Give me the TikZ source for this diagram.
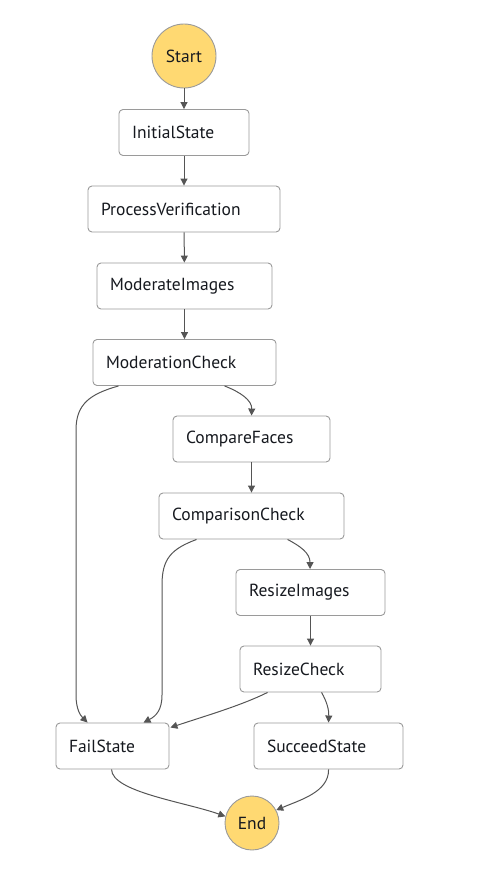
\documentclass[tikz,border=0pt]{standalone}
\usepackage{fontspec}
\setmainfont{PT Sans}
\usetikzlibrary{arrows.meta,calc}
\definecolor{boxline}{HTML}{9A9A9A}
\definecolor{txt}{HTML}{16191F}
\definecolor{edge}{HTML}{555555}
\definecolor{term}{HTML}{FFD972}
\tikzset{
  statebox/.style={draw=boxline, line width=0.9pt, rounded corners=4pt, fill=white,
    minimum height=46pt, inner xsep=13pt, inner ysep=0pt, align=left,
    text=txt, font=\fontsize{17.5}{19}\selectfont, anchor=center},
  termnode/.style={circle, draw=boxline, line width=0.9pt, fill=term, text=txt,
    font=\fontsize{17.5}{19}\selectfont, inner sep=0pt},
  conn/.style={draw=edge, line width=1pt, -{Triangle[length=7pt,width=7pt]}}
}
\newcommand{\stbox}[5]{\node[statebox, text width=#4pt-26pt] (#1) at (#2,#3) {#5};}
\begin{document}
\begin{tikzpicture}[x=1pt,y=-1pt]
\useasboundingbox (0,0) rectangle (494,882);
\node[termnode, minimum size=64pt] (start) at (184,56) {Start};
\stbox{init}{184}{132.5}{130}{InitialState}
\stbox{pv}{184}{209}{192}{ProcessVerification}
\stbox{mi}{184.5}{286}{175}{ModerateImages}
\stbox{mc}{184.5}{362.5}{183}{ModerationCheck}
\stbox{cf}{251.5}{439}{157}{CompareFaces}
\stbox{cc}{251.5}{516}{185}{ComparisonCheck}
\stbox{ri}{310.5}{592.5}{149}{ResizeImages}
\stbox{rc}{310.5}{669}{141}{ResizeCheck}
\stbox{fs}{112.5}{746}{113}{FailState}
\stbox{ss}{328.5}{746}{149}{SucceedState}
\node[termnode, minimum size=54pt] (end) at (252,823) {End};

\draw[conn] (start) -- (init);
\draw[conn] (init) -- (pv);
\draw[conn] (pv) -- (mi);
\draw[conn] (mi) -- (mc);
\draw[conn] (cf) -- (cc);
\draw[conn] (ri) -- (rc);

\draw[conn] ($(mc.south west)+(26,0)$) .. controls (90,394) and (76,404) .. (76,430)
  -- (76,695) .. controls (76,710) and (81,716) .. ($(fs.north west)+(32,0)$);
\draw[conn] ($(mc.south west)+(132,0)$) .. controls (240,392) and (252,400) .. ($(cf.north west)+(79,0)$);
\draw[conn] ($(cc.south west)+(38,0)$) .. controls (171,549) and (162,559) .. (162,585)
  -- (162,695) .. controls (162,710) and (156,716) .. ($(fs.north west)+(88,0)$);
\draw[conn] ($(cc.south west)+(129,0)$) .. controls (300,546) and (310,553) .. ($(ri.north west)+(74.5,0)$);
\draw[conn] ($(rc.south west)+(28,0)$) .. controls (240,706) and (205,716) .. ($(fs.north east)+(1,5)$);
\draw[conn] ($(rc.south west)+(82,0)$) .. controls (327,702) and (329,710) .. ($(ss.north west)+(75,0)$);
\draw[conn] ($(fs.south west)+(56,0)$) .. controls (112,792) and (185,802) .. (end.166);
\draw[conn] ($(ss.south west)+(75,0)$) .. controls (329,792) and (300,800) .. (end.28);
\end{tikzpicture}
\end{document}
